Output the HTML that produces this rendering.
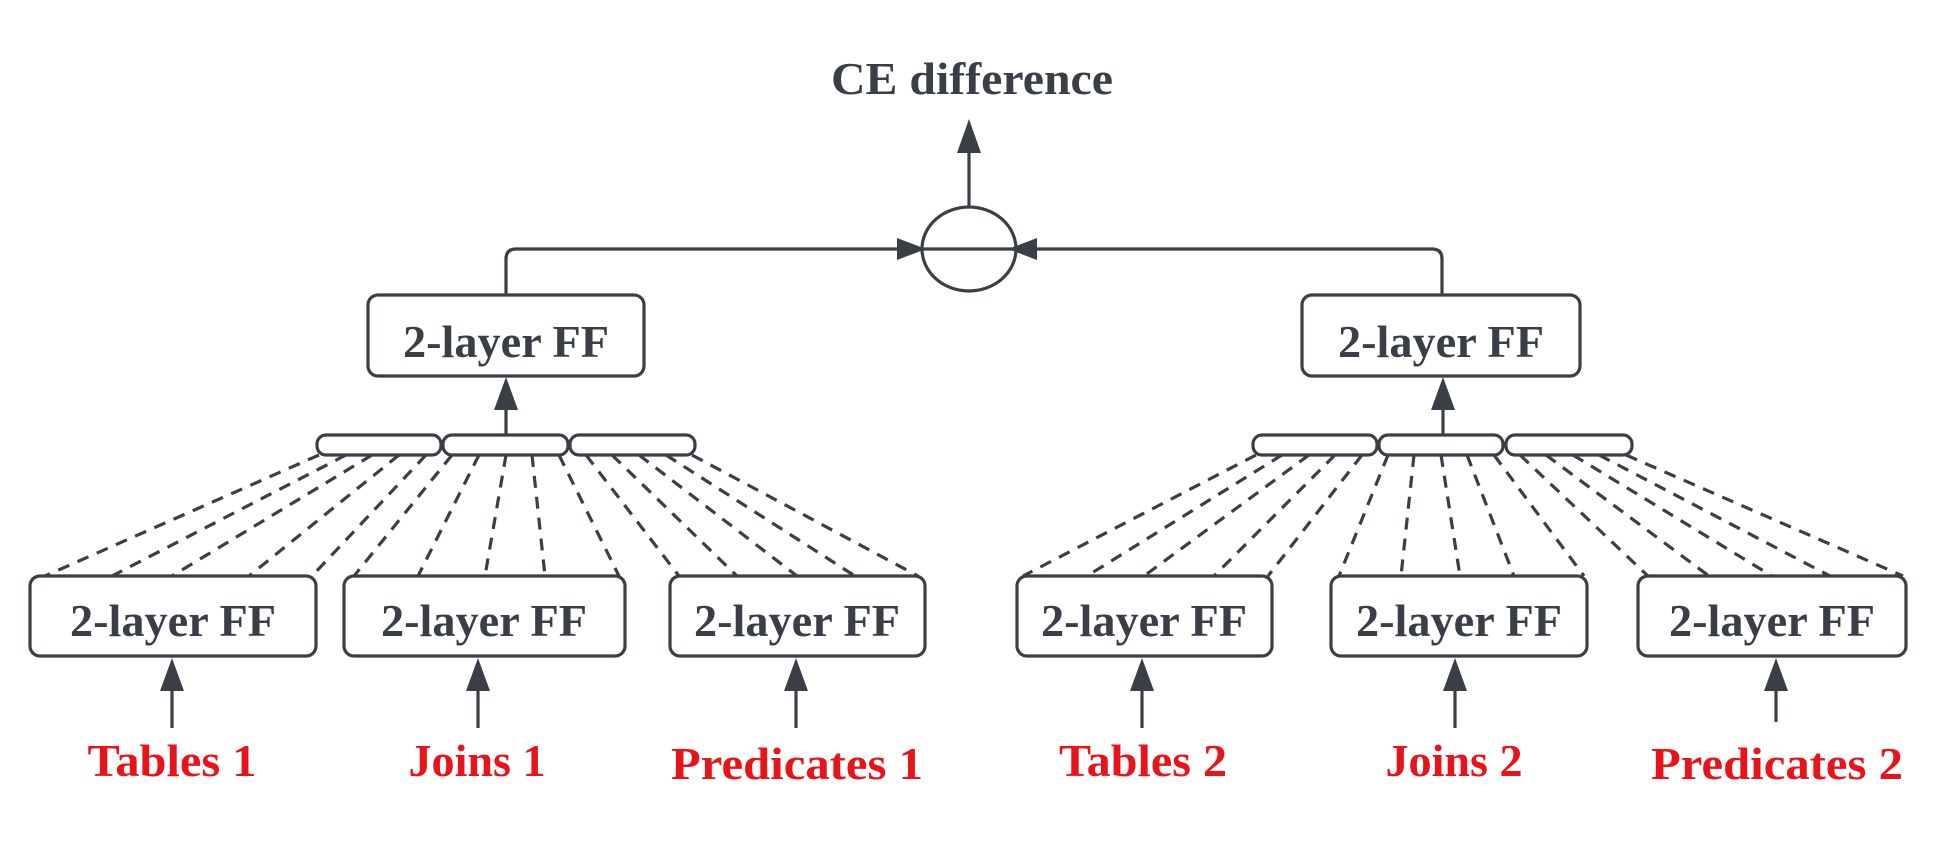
<!DOCTYPE html>
<html><head><meta charset="utf-8"><style>
html,body{margin:0;padding:0;background:#fff;width:1956px;height:842px;overflow:hidden}
</style></head><body>
<svg width="1956" height="842" viewBox="0 0 1956 842" xmlns="http://www.w3.org/2000/svg">
<g fill="none" stroke="#3a3f47" stroke-width="3.2">
<ellipse cx="969" cy="249" rx="47" ry="42"/>
<line x1="922" y1="249" x2="1016" y2="249"/>
<line x1="969" y1="207" x2="969" y2="140"/>
<path d="M506 295 V259 Q506 249 516 249 H905"/>
<path d="M1442 295 V259 Q1442 249 1432 249 H1030"/>
<rect x="368" y="295" width="276" height="81" rx="10"/>
<rect x="1302" y="295" width="278" height="81" rx="10"/>
<line x1="506" y1="435" x2="506" y2="400"/>
<line x1="1443" y1="435" x2="1443" y2="400"/>
<rect x="317" y="435" width="124" height="20" rx="9"/>
<rect x="443" y="435" width="125" height="20" rx="9"/>
<rect x="570" y="435" width="125" height="20" rx="9"/>
<rect x="1253" y="435" width="124" height="20" rx="9"/>
<rect x="1379" y="435" width="124" height="20" rx="9"/>
<rect x="1506" y="435" width="126" height="20" rx="9"/>
<rect x="30" y="576" width="286" height="80" rx="10"/>
<rect x="344" y="576" width="281" height="80" rx="10"/>
<rect x="670" y="576" width="255" height="80" rx="10"/>
<rect x="1017" y="576" width="255" height="80" rx="10"/>
<rect x="1331" y="576" width="256" height="80" rx="10"/>
<rect x="1638" y="576" width="268" height="80" rx="10"/>
<line x1="172" y1="728" x2="172" y2="680"/>
<line x1="478" y1="728" x2="478" y2="680"/>
<line x1="796" y1="728" x2="796" y2="680"/>
<line x1="1142" y1="728" x2="1142" y2="680"/>
<line x1="1455" y1="728" x2="1455" y2="680"/>
<line x1="1776" y1="722" x2="1776" y2="680"/>
<g stroke-dasharray="12 9">
<line x1="319" y1="455" x2="45" y2="576"/>
<line x1="346" y1="455" x2="112" y2="576"/>
<line x1="372" y1="455" x2="172" y2="576"/>
<line x1="399" y1="455" x2="249" y2="576"/>
<line x1="426" y1="455" x2="312" y2="576"/>
<line x1="452" y1="455" x2="354" y2="576"/>
<line x1="479" y1="455" x2="418" y2="576"/>
<line x1="506" y1="455" x2="485" y2="576"/>
<line x1="532" y1="455" x2="545" y2="576"/>
<line x1="559" y1="455" x2="619" y2="576"/>
<line x1="586" y1="455" x2="679" y2="576"/>
<line x1="612" y1="455" x2="737" y2="576"/>
<line x1="639" y1="455" x2="797" y2="576"/>
<line x1="666" y1="455" x2="855" y2="576"/>
<line x1="692" y1="455" x2="918" y2="576"/>
<line x1="1256" y1="455" x2="1023" y2="576"/>
<line x1="1282" y1="455" x2="1087" y2="576"/>
<line x1="1309" y1="455" x2="1144" y2="576"/>
<line x1="1335" y1="455" x2="1214" y2="576"/>
<line x1="1362" y1="455" x2="1268" y2="576"/>
<line x1="1388" y1="455" x2="1339" y2="576"/>
<line x1="1414" y1="455" x2="1401" y2="576"/>
<line x1="1441" y1="455" x2="1460" y2="576"/>
<line x1="1467" y1="455" x2="1514" y2="576"/>
<line x1="1494" y1="455" x2="1584" y2="576"/>
<line x1="1520" y1="455" x2="1648" y2="576"/>
<line x1="1546" y1="455" x2="1709" y2="576"/>
<line x1="1573" y1="455" x2="1772" y2="576"/>
<line x1="1599" y1="455" x2="1830" y2="576"/>
<line x1="1626" y1="455" x2="1903" y2="576"/>
</g>
</g>
<g fill="#3a3f47">
<polygon points="969,119 957,153 981,153"/>
<polygon points="926,249 897,238 897,260"/>
<polygon points="1008,249 1037,238 1037,260"/>
<polygon points="506,377 494,410 518,410"/>
<polygon points="1443,377 1431,410 1455,410"/>
<polygon points="172,658 160,691 184,691"/>
<polygon points="478,658 466,691 490,691"/>
<polygon points="796,658 784,691 808,691"/>
<polygon points="1142,658 1130,691 1154,691"/>
<polygon points="1455,658 1443,691 1467,691"/>
<polygon points="1776,658 1764,691 1788,691"/>
</g>
<g font-family="'Liberation Serif', serif" font-weight="bold" font-size="46" text-anchor="middle">
<text x="972" y="94" fill="#3a3f47" textLength="282" lengthAdjust="spacingAndGlyphs">CE difference</text>
<g fill="#3a3f47">
<text x="506" y="357" textLength="206" lengthAdjust="spacingAndGlyphs">2-layer FF</text>
<text x="1441" y="357" textLength="206" lengthAdjust="spacingAndGlyphs">2-layer FF</text>
<text x="173" y="636" textLength="206" lengthAdjust="spacingAndGlyphs">2-layer FF</text>
<text x="484" y="636" textLength="206" lengthAdjust="spacingAndGlyphs">2-layer FF</text>
<text x="797" y="636" textLength="206" lengthAdjust="spacingAndGlyphs">2-layer FF</text>
<text x="1144" y="636" textLength="206" lengthAdjust="spacingAndGlyphs">2-layer FF</text>
<text x="1459" y="636" textLength="206" lengthAdjust="spacingAndGlyphs">2-layer FF</text>
<text x="1772" y="636" textLength="206" lengthAdjust="spacingAndGlyphs">2-layer FF</text>
</g>
<g fill="#e8141a">
<text x="172" y="776" textLength="169" lengthAdjust="spacingAndGlyphs">Tables 1</text>
<text x="477" y="776" textLength="137" lengthAdjust="spacingAndGlyphs">Joins 1</text>
<text x="797" y="779" textLength="252" lengthAdjust="spacingAndGlyphs">Predicates 1</text>
<text x="1143" y="776" textLength="168" lengthAdjust="spacingAndGlyphs">Tables 2</text>
<text x="1454" y="776" textLength="137" lengthAdjust="spacingAndGlyphs">Joins 2</text>
<text x="1777" y="779" textLength="252" lengthAdjust="spacingAndGlyphs">Predicates 2</text>
</g>
</g>
</svg>
</body></html>
